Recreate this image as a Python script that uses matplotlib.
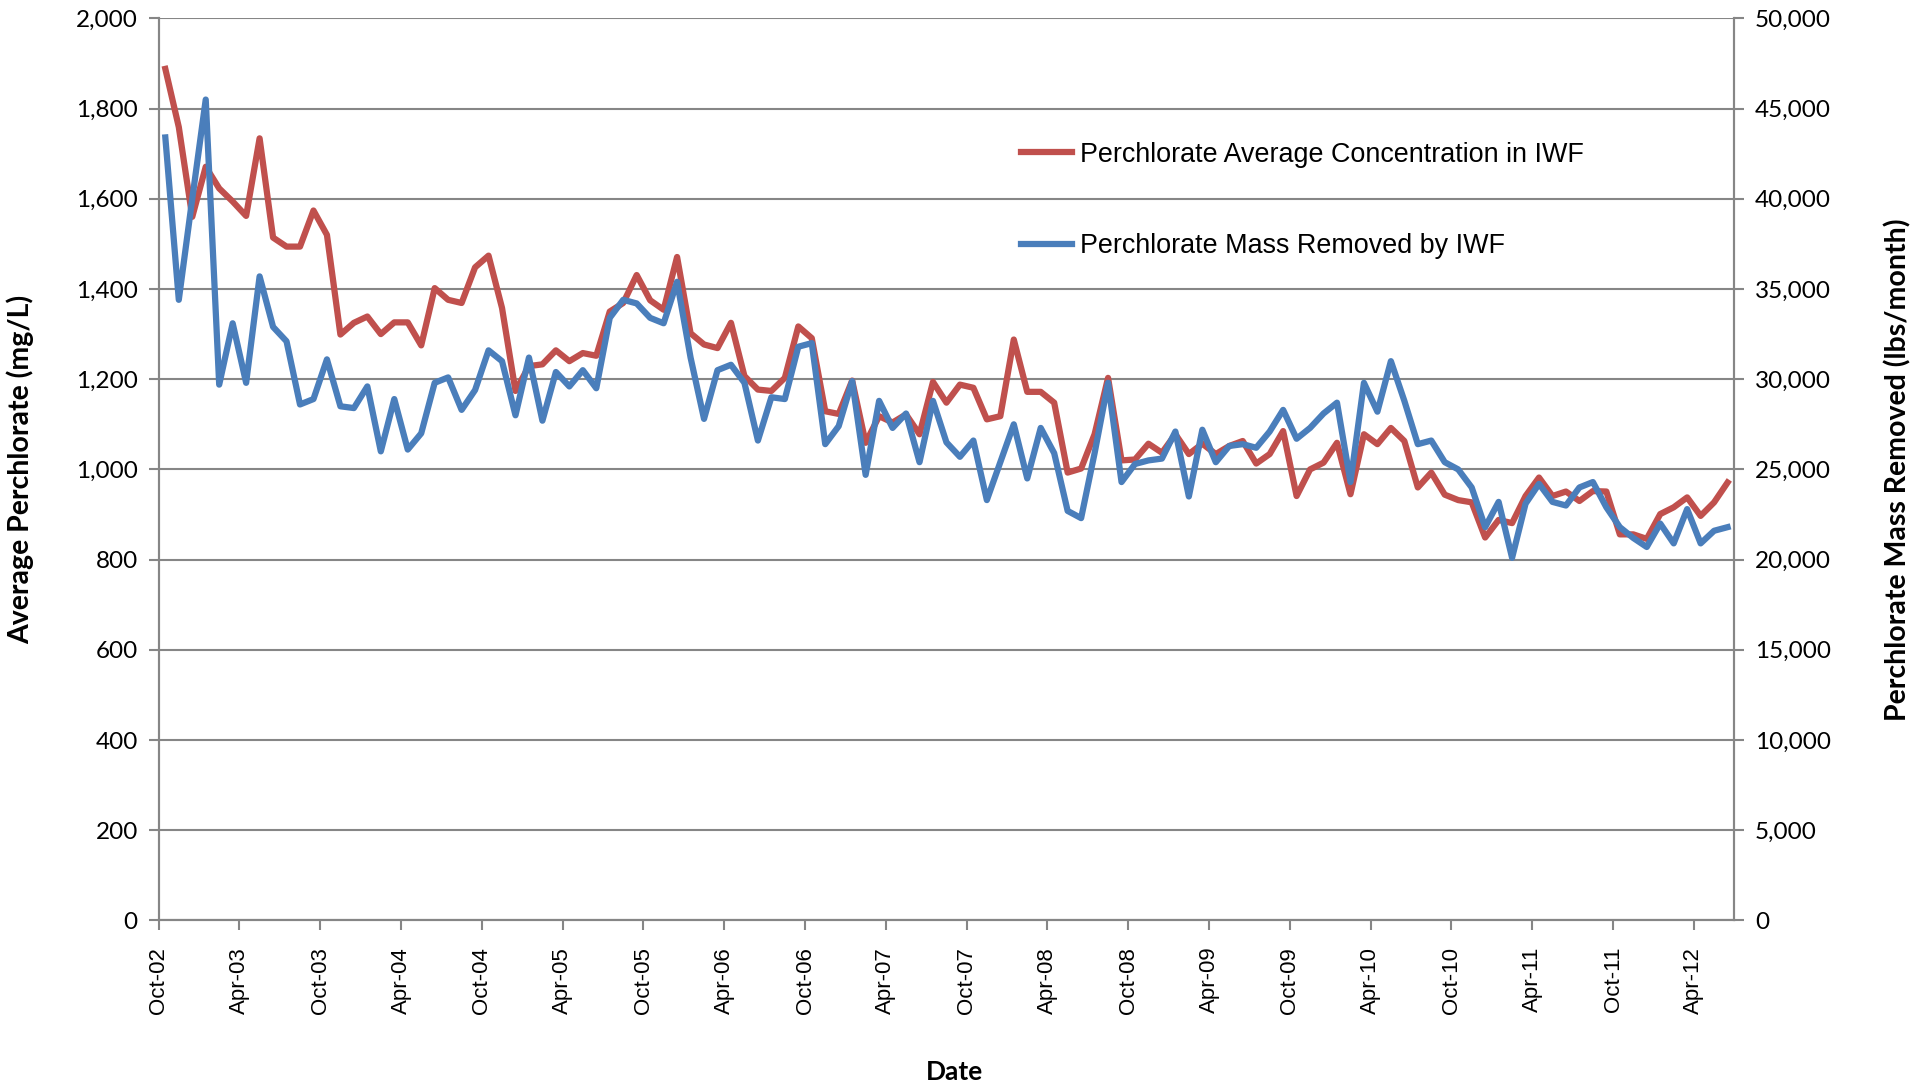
import numpy as np
import pandas as pd
import matplotlib
matplotlib.use("Agg")
import matplotlib.pyplot as plt
from matplotlib.ticker import FuncFormatter

# monthly values, Oct-02 .. Jun-12
conc_mg_l = [1888, 1759, 1560, 1671, 1623, 1594, 1562, 1734, 1514, 1494,
             1494, 1574, 1520, 1299, 1325, 1339, 1300, 1326, 1326, 1275,
             1402, 1376, 1369, 1448, 1474, 1358, 1174, 1229, 1233, 1264,
             1240, 1258, 1252, 1350, 1369, 1431, 1375, 1354, 1471, 1302,
             1277, 1269, 1325, 1207, 1177, 1174, 1203, 1317, 1291, 1129,
             1123, 1197, 1059, 1118, 1104, 1122, 1078, 1194, 1148, 1188,
             1181, 1111, 1118, 1288, 1172, 1172, 1148, 993, 1002, 1078,
             1203, 1020, 1022, 1057, 1037, 1078, 1034, 1057, 1034, 1052,
             1063, 1013, 1034, 1085, 941, 1000, 1015, 1059, 945, 1078,
             1056, 1092, 1063, 960, 993, 944, 932, 927, 849, 888,
             881, 941, 982, 941, 951, 930, 952, 951, 856, 856,
             846, 901, 916, 938, 897, 927, 971]

mass_lbs = [43400, 34400, 40000, 45500, 29700, 33100, 29800, 35700, 32900, 32100,
            28600, 28900, 31100, 28500, 28400, 29600, 26000, 28900, 26100, 27000,
            29800, 30100, 28300, 29400, 31600, 31000, 28000, 31200, 27700, 30400,
            29600, 30500, 29500, 33400, 34400, 34200, 33400, 33100, 35400, 31200,
            27800, 30500, 30800, 29800, 26600, 29000, 28900, 31800, 32000, 26400,
            27400, 29900, 24700, 28800, 27300, 28100, 25400, 28800, 26500, 25700,
            26600, 23300, 25400, 27500, 24500, 27300, 25900, 22700, 22300, 25900,
            29800, 24300, 25300, 25500, 25600, 27100, 23500, 27200, 25400, 26300,
            26400, 26200, 27100, 28300, 26700, 27300, 28100, 28700, 24300, 29800,
            28200, 31000, 28800, 26400, 26600, 25400, 25000, 24000, 21800, 23200,
            20100, 23100, 24200, 23200, 23000, 24000, 24300, 22900, 21800, 21200,
            20700, 22000, 20900, 22800, 20900, 21600, 21800]

start_month = "2002-10-01"
n_months = len(conc_mg_l)
tick_labels = pd.date_range(start_month, periods=20, freq="6MS").strftime("%b-%y").tolist()

red = "#C0504D"
blue = "#4A7EBB"
grey = "#868686"

fig = plt.figure(figsize=(19.27, 10.87), dpi=100)
ax = fig.add_axes([0.0823, 0.1532, 0.8177, 0.8299])
ax2 = ax.twinx()

x = np.arange(n_months) + 0.5
l1, = ax.plot(x, conc_mg_l, color=red, lw=4.5, solid_joinstyle="round",
              label="Perchlorate Average Concentration in IWF")
l2, = ax2.plot(x, mass_lbs, color=blue, lw=4.5, solid_joinstyle="round",
               label="Perchlorate Mass Removed by IWF")

ax.set_xlim(0, n_months)
ax.set_ylim(0, 2000)
ax2.set_ylim(0, 50000)
ax.set_yticks(np.arange(0, 2001, 200))
ax2.set_yticks(np.arange(0, 50001, 5000))
ax.set_xticks(np.arange(0, n_months, 6))
ax.set_xticklabels(tick_labels, rotation=90, fontsize=16, family="Liberation Sans")

fmt = FuncFormatter(lambda v, p: f"{v:,.0f}")
ax.yaxis.set_major_formatter(fmt)
ax2.yaxis.set_major_formatter(fmt)

ax.grid(axis="y", color=grey, lw=1.5)
ax.set_axisbelow(True)

for a in (ax, ax2):
    for s in ("left", "right", "bottom"):
        a.spines[s].set_color(grey)
        a.spines[s].set_linewidth(1.5)
    a.spines["top"].set_visible(False)
    a.tick_params(colors=grey, width=1.5, length=7, direction="out")
    a.tick_params(axis="y", labelcolor="black", labelsize=17.5, pad=8)
ax.tick_params(axis="x", labelcolor="black", pad=12)
for lab in ax.get_yticklabels() + ax2.get_yticklabels():
    lab.set_family("Lato")

ax.set_ylabel("Average Perchlorate (mg/L)", fontsize=20.5, fontweight="bold", family="Lato")
ax2.set_ylabel("Perchlorate Mass Removed (lbs/month)", fontsize=20.5, fontweight="bold",
               family="Lato", rotation=90)
ax.yaxis.set_label_coords(-0.0788, 0.5)
ax2.yaxis.set_label_coords(1.0952, 0.5)
ax.set_xlabel("Date", fontsize=19, fontweight="bold", family="Lato")
ax.xaxis.set_label_coords(0.505, -0.155)

fig.legend([l1, l2], [l1.get_label(), l2.get_label()], loc="center left",
           bbox_to_anchor=(0.5228, 0.8157), frameon=False, borderpad=0,
           handlelength=1.9, handletextpad=0.3, labelspacing=2.43,
           prop={"family": "Liberation Sans", "size": 19.4})

fig.savefig("out.png", dpi=100)
